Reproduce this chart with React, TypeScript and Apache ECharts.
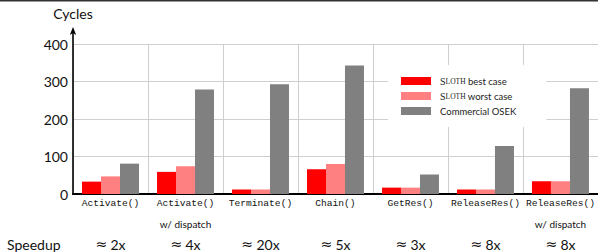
import React, { useEffect, useRef } from "react";
import * as echarts from "echarts";

const categories = ["Activate()", "Activate()", "Terminate()", "Chain()", "GetRes()", "ReleaseRes()", "ReleaseRes()"];
const suffixes = ["", "w/ dispatch", "", "", "", "", "w/ dispatch"];
const speedups = ["2x", "4x", "20x", "5x", "3x", "8x", "8x"];
const slothBest = [33, 59, 12, 66, 17, 12, 34];
const slothWorst = [47, 74, 12, 80, 17, 12, 34];
const commercialOsek = [81, 279, 293, 343, 52, 128, 282];
const seriesNames = ["Sloth best case", "Sloth worst case", "Commercial OSEK"];
const yTicks = { min: 0, max: 400, interval: 100 };

const SANS = "Lato, 'Open Sans', sans-serif";
const MONO = "'Liberation Mono', 'DejaVu Sans Mono', monospace";
const SERIF = "'Liberation Serif', 'DejaVu Serif', serif";

export default function App() {
  const ref = useRef<HTMLDivElement>(null);
  useEffect(() => {
    if (!ref.current) return;
    const chart = echarts.init(ref.current, null, { renderer: "svg" });
    const option: any = {
      animation: false,
      backgroundColor: "#fff",
      grid: { left: 73, right: 0, top: 44, bottom: 58, containLabel: false },
      legend: {
        orient: "vertical",
        left: 388,
        top: 65,
        width: 142,
        backgroundColor: "#fff",
        padding: [11, 30, 11, 13],
        itemWidth: 30,
        itemHeight: 8,
        itemGap: 5,
        selectedMode: false,
        data: seriesNames.map((n) => ({ name: n, icon: "rect" })),
        formatter: (name: string) => {
          if (name.startsWith("Sloth")) {
            return "{s|S}{sc|LOTH}{t| " + name.slice(6) + "}";
          }
          return "{t|" + name + "}";
        },
        textStyle: {
          padding: [0, 0, 0, 4],
          rich: {
            s: { fontFamily: SERIF, fontSize: 10, color: "#222", lineHeight: 10 },
            sc: { fontFamily: SERIF, fontSize: 7.5, color: "#222", lineHeight: 10 },
            t: { fontFamily: SANS, fontSize: 9.5, color: "#222", lineHeight: 10 },
          },
        },
      },
      xAxis: [
        {
          type: "category",
          data: categories,
          position: "bottom",
          axisLine: { show: true, lineStyle: { color: "#000", width: 2 } },
          axisTick: { show: false },
          splitLine: { show: true, lineStyle: { color: "#cfcfcf", width: 1 } },
          axisLabel: {
            interval: 0,
            margin: 2,
            formatter: (v: string, i: number) =>
              suffixes[i] ? "{n|" + v + "}\n{w|" + suffixes[i] + "}" : "{n|" + v + "}",
            rich: {
              n: { fontFamily: MONO, fontSize: 9.6, color: "#111", lineHeight: 14 },
              w: { fontFamily: SANS, fontSize: 10, color: "#111", lineHeight: 28 },
            },
          },
        },
        {
          type: "category",
          data: speedups,
          position: "bottom",
          axisLine: { show: false },
          axisTick: { show: false },
          splitLine: { show: false },
          axisLabel: {
            interval: 0,
            margin: 42,
            formatter: (v: string) => "{a|≈} {b|" + v + "}",
            rich: {
              a: { fontFamily: "'DejaVu Sans', sans-serif", fontSize: 14, color: "#111", lineHeight: 16 },
              b: { fontFamily: SANS, fontSize: 14, color: "#111", lineHeight: 16 },
            },
          },
        },
      ],
      yAxis: {
        type: "value",
        min: yTicks.min,
        max: yTicks.max,
        interval: yTicks.interval,
        axisLine: { show: false },
        axisTick: { show: false },
        splitLine: { show: true, lineStyle: { color: "#cfcfcf", width: 1 } },
        axisLabel: { margin: 5, fontFamily: SANS, fontSize: 14, color: "#111" },
      },
      series: [
        { name: seriesNames[0], type: "bar", data: slothBest, barWidth: 19, barGap: "0%", itemStyle: { color: "#ff0000" } },
        { name: seriesNames[1], type: "bar", data: slothWorst, barWidth: 19, barGap: "0%", itemStyle: { color: "#ff8080" } },
        { name: seriesNames[2], type: "bar", data: commercialOsek, barWidth: 19, barGap: "0%", itemStyle: { color: "#808080" } },
      ],
      graphic: [
        { type: "rect", shape: { x: 0, y: 0, width: 598, height: 1.5 }, style: { fill: "#333" }, silent: true },
        { type: "line", shape: { x1: 73, y1: 195, x2: 73, y2: 32 }, style: { stroke: "#000", lineWidth: 1.6 }, z: 10 },
        { type: "polygon", shape: { points: [[73, 27], [69.8, 35], [73, 33], [76.2, 35]] }, style: { fill: "#000" }, z: 10 },
        {
          type: "text",
          x: 73,
          y: 13,
          style: { text: "Cycles", fontFamily: SANS, fontSize: 14, fill: "#111", align: "center", verticalAlign: "middle" },
        },
        {
          type: "text",
          x: 7,
          y: 244,
          style: { text: "Speedup", fontFamily: SANS, fontSize: 14, fill: "#111", align: "left", verticalAlign: "middle" },
        },
      ],
    };
    chart.setOption(option);
    return () => chart.dispose();
  }, []);
  return <div ref={ref} style={{ position: "fixed", left: 0, top: 0, width: 598, height: 252 }} />;
}
